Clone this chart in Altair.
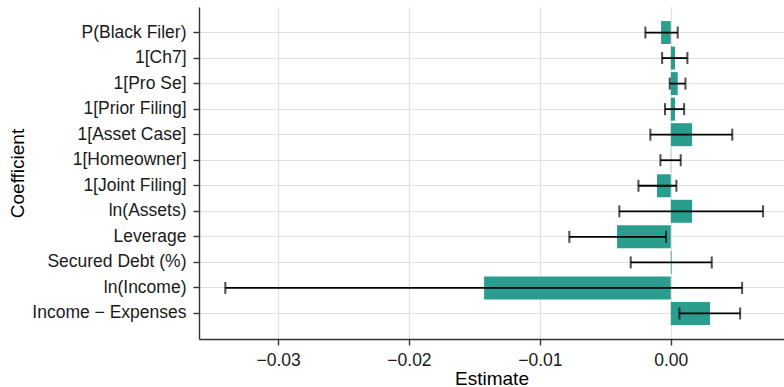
import altair as alt
import pandas as pd

coefficients = [
    "P(Black Filer)", "1[Ch7]", "1[Pro Se]", "1[Prior Filing]", "1[Asset Case]",
    "1[Homeowner]", "1[Joint Filing]", "ln(Assets)", "Leverage",
    "Secured Debt (%)", "ln(Income)", "Income \u2212 Expenses",
]
estimates = [-0.00074, 0.00033, 0.00053, 0.00033, 0.00163, 0.00002,
             -0.00105, 0.00163, -0.0041, 0.00006, -0.01426, 0.0030]
lower = [-0.00194, -0.00066, -0.00008, -0.00044, -0.00156, -0.00079,
         -0.00247, -0.00393, -0.00775, -0.00306, -0.03403, 0.00066]
upper = [0.00053, 0.00127, 0.00112, 0.00102, 0.0047, 0.00076,
         0.00043, 0.00705, -0.00036, 0.00313, 0.00545, 0.0053]
x_ticks = [-0.03, -0.02, -0.01, 0.0]

df = pd.DataFrame({"coef": coefficients, "est": estimates, "lo": lower, "hi": upper})

FONT = "Liberation Sans"
xscale = alt.Scale(domain=[-0.03604, 0.00865], nice=False, zero=False)
yenc = alt.Y(
    "coef:N",
    sort=coefficients,
    scale=alt.Scale(paddingInner=0, paddingOuter=0.5),
    axis=alt.Axis(
        title="Coefficient", titleFontSize=19, titleFont=FONT, titleFontWeight="normal",
        titleColor="#000000", titleX=-172, titleY=166, titleAngle=270, titleBaseline="bottom",
        titleAlign="center",
        labelFontSize=17.5, labelFont=FONT, labelColor="#1a1a1a", labelPadding=7,
        tickSize=6, tickColor="#333333", tickWidth=1.4,
        domainColor="#333333", domainWidth=1.4,
        grid=True, gridColor="#e0e0e0", gridWidth=1.2,
    ),
)

base = alt.Chart(df)

bars = base.mark_bar(color="#2A9D8F", height=alt.RelativeBandSize(0.9)).encode(
    x=alt.X(
        "est:Q",
        scale=xscale,
        axis=alt.Axis(
            title="Estimate", titleFontSize=19, titleFont=FONT, titleFontWeight="normal",
            titleColor="#000000", titleY=30, titleBaseline="top",
            values=x_ticks, format=".2f",
            labelFontSize=17.5, labelFont=FONT, labelColor="#1a1a1a", labelPadding=6,
            tickSize=6, tickColor="#333333", tickWidth=1.4,
            domainColor="#333333", domainWidth=1.4,
            grid=True, gridColor="#e0e0e0", gridWidth=1.2,
        ),
    ),
    x2=alt.datum(0),
    y=yenc,
)

rules = base.mark_rule(color="black", strokeWidth=1.8).encode(
    x=alt.X("lo:Q", scale=xscale), x2="hi:Q", y=alt.Y("coef:N", sort=coefficients)
)
cap_lo = base.mark_tick(color="black", size=12, thickness=2).encode(
    x=alt.X("lo:Q", scale=xscale), y=alt.Y("coef:N", sort=coefficients)
)
cap_hi = base.mark_tick(color="black", size=12, thickness=2).encode(
    x=alt.X("hi:Q", scale=xscale), y=alt.Y("coef:N", sort=coefficients)
)

chart = (
    alt.layer(bars, rules, cap_lo, cap_hi)
    .properties(
        width=585, height=332,
        autosize=alt.AutoSizeParams(type="none"),
        padding={"left": 199, "top": 7, "right": 0, "bottom": 48},
        background="white",
    )
    .configure_view(stroke=None)
)

chart.save("out.html", embed_options={"renderer": "svg", "actions": False})
